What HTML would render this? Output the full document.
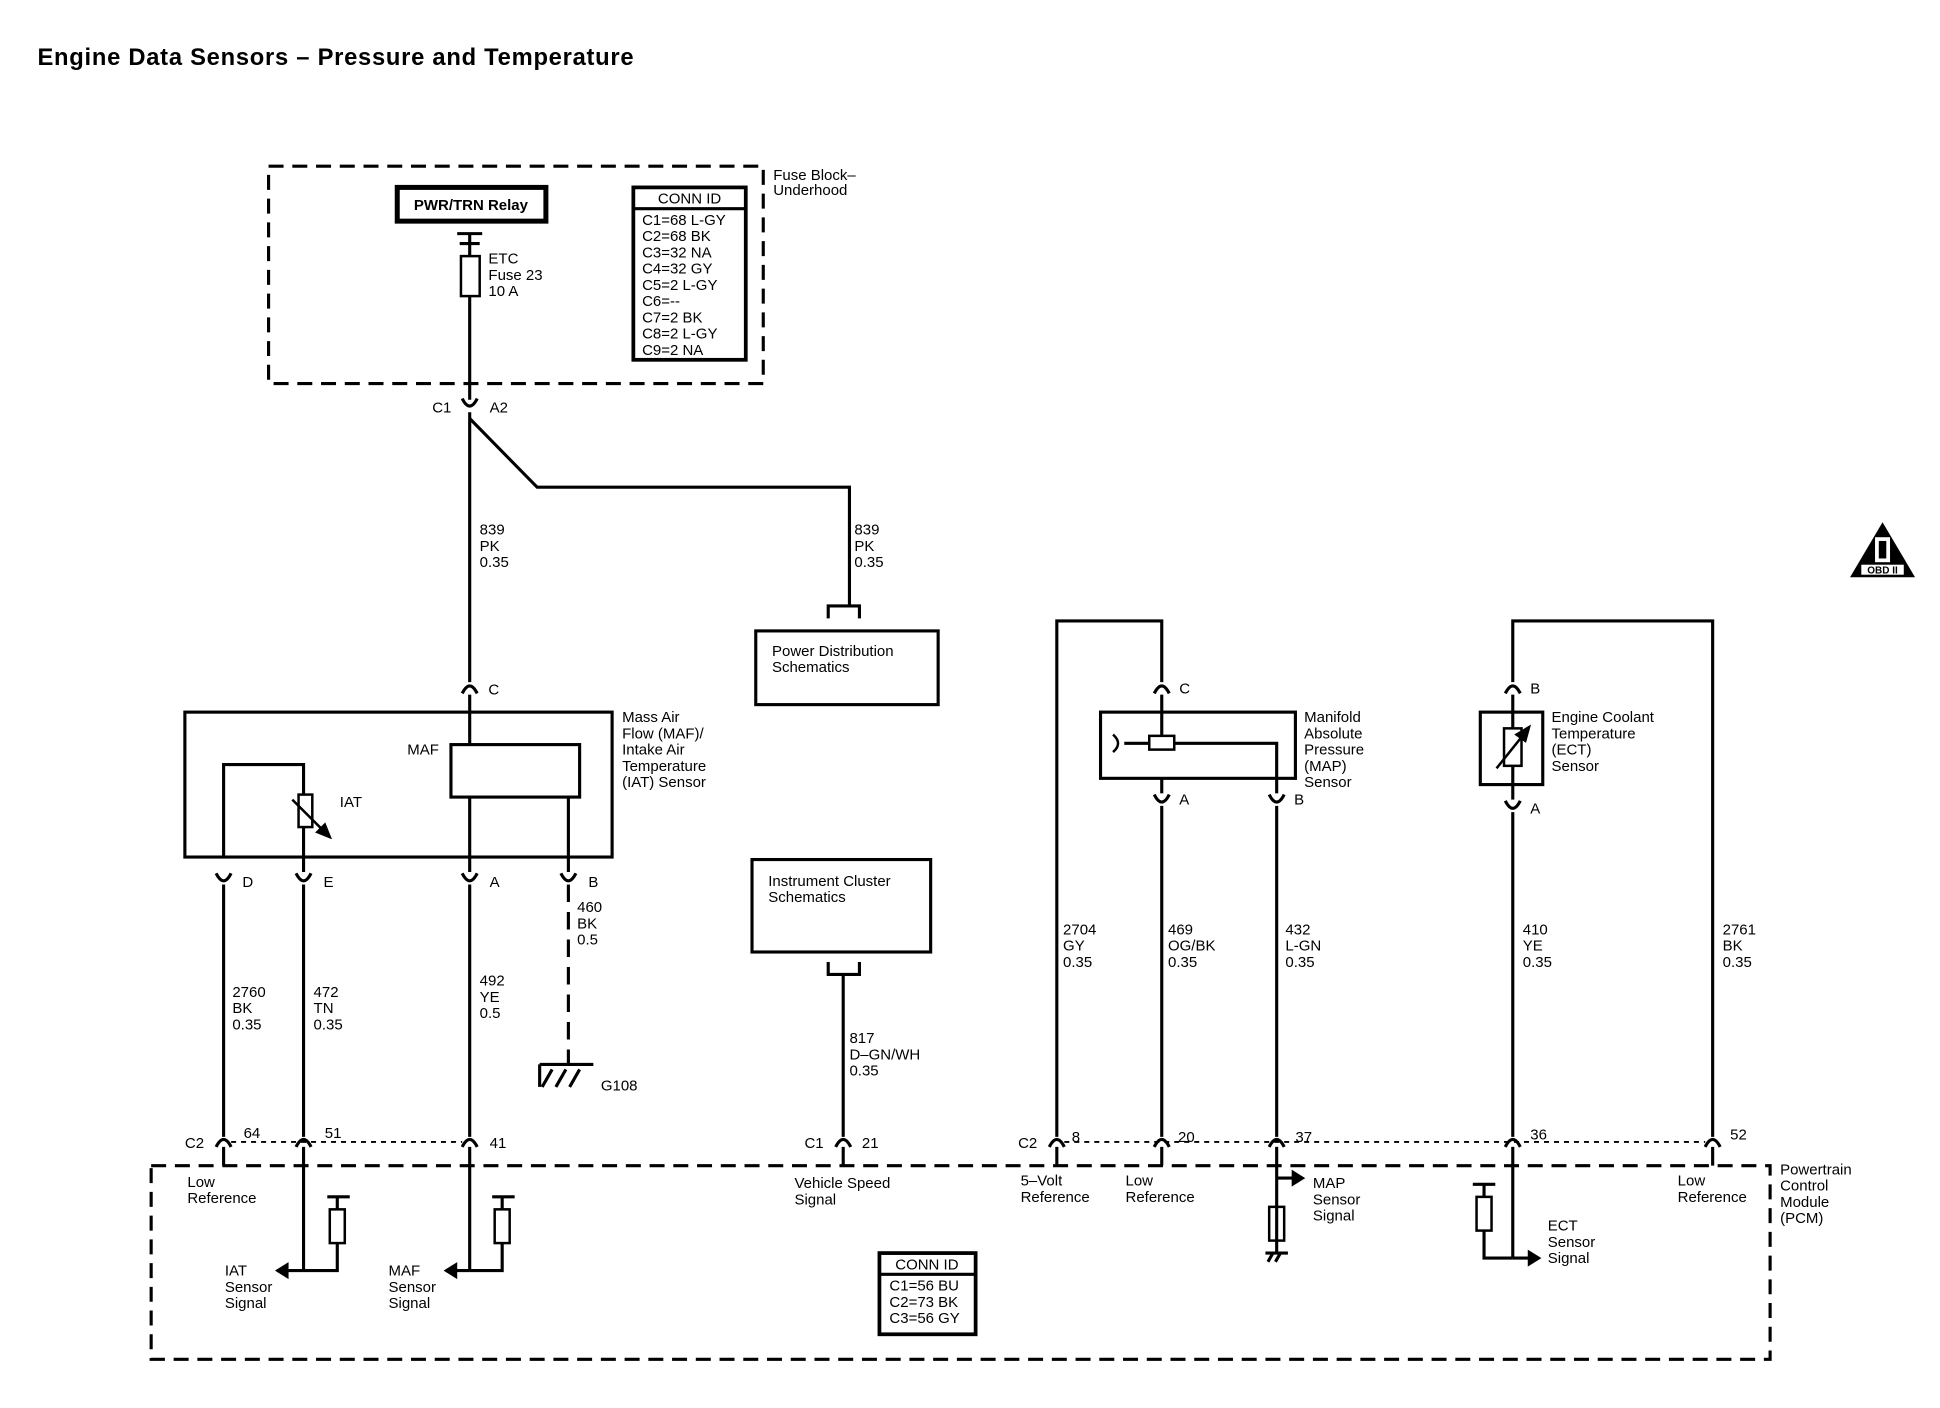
<!DOCTYPE html>
<html><head><meta charset="utf-8"><style>
html,body{margin:0;padding:0;background:#fff;}
svg{display:block;}
text{font-family:"Liberation Sans",Arial,sans-serif;font-size:12px;fill:#000;}
.b{font-weight:bold;}
</style></head><body>
<svg width="1940" height="1408" viewBox="0 0 1553 1127" preserveAspectRatio="none" xmlns="http://www.w3.org/2000/svg">
<defs>
<g id="cu"><path d="M-6,-4 Q0,8 6,-4" fill="none" stroke="#000" stroke-width="2.5"/></g>
<g id="cn"><path d="M-6,4 Q0,-8 6,4" fill="none" stroke="#000" stroke-width="2.5"/></g>
</defs>
<text x="30" y="52" class="b" style="font-size:19px;letter-spacing:0.6px">Engine Data Sensors – Pressure and Temperature</text>

<g fill="none" stroke="#000" stroke-width="2.5">
<rect x="215" y="133" width="396" height="174" stroke-dasharray="12,7"/>
<rect x="318" y="150" width="119" height="27" stroke-width="4"/>
<rect x="507" y="150" width="90" height="138" stroke-width="3"/>
<line x1="507" y1="167" x2="597" y2="167"/>
<path d="M366,187 H386 M376,187 V195 M368,195 H384"/>
<rect x="369" y="205" width="15" height="32" stroke-width="2"/>
<line x1="376" y1="195" x2="376" y2="205"/>
<line x1="376" y1="237" x2="376" y2="320"/>
<line x1="376" y1="330" x2="376" y2="546"/>
<path d="M376,335 L430,390 H680 V485"/>
<path d="M663,495 V485 H688 V495"/>
<rect x="605" y="505" width="146" height="59"/>
<rect x="148" y="570" width="342" height="116"/>
<rect x="361" y="596" width="103" height="42"/>
<line x1="376" y1="556" x2="376" y2="596"/>
<line x1="376" y1="638" x2="376" y2="698"/>
<line x1="455" y1="638" x2="455" y2="698"/>
<path d="M179,686 V612 H243 V636"/>
<rect x="239" y="636" width="11" height="26" stroke-width="2"/>
<line x1="243" y1="662" x2="243" y2="698"/>
<line x1="179" y1="708" x2="179" y2="910"/>
<line x1="243" y1="708" x2="243" y2="910"/>
<line x1="376" y1="708" x2="376" y2="910"/>
<line x1="455" y1="708" x2="455" y2="840" stroke-dasharray="14,8"/>
<path d="M455,840 V852 M432,852 H475 M434,870 L442,856 M445,870 L453,856 M456,870 L464,856 M432,852 V870" />
<rect x="602" y="688" width="143" height="74"/>
<path d="M663,770 V780 H688 V770"/>
<line x1="675" y1="780" x2="675" y2="910"/>
<rect x="121" y="933" width="1296" height="155" stroke-dasharray="12,7"/>
<line x1="185" y1="914" x2="370" y2="914" stroke-width="1.5" stroke-dasharray="4,4"/>
<line x1="852" y1="914" x2="1365" y2="914" stroke-width="1.5" stroke-dasharray="4,4"/>
<line x1="179" y1="918" x2="179" y2="933"/>
<line x1="243" y1="918" x2="243" y2="1017"/>
<line x1="243" y1="1017" x2="222" y2="1017"/>
<path d="M262,958 H280 M270,958 V968 M270,995 V1017 H243"/>
<rect x="264" y="968" width="12" height="27" stroke-width="2"/>
<line x1="376" y1="918" x2="376" y2="1017"/>
<line x1="376" y1="1017" x2="357" y2="1017"/>
<path d="M394,958 H412 M402,958 V968 M402,995 V1017 H376"/>
<rect x="396" y="968" width="12" height="27" stroke-width="2"/>
<line x1="675" y1="918" x2="675" y2="933"/>
<path d="M846,910 V497 H930 V546"/>
<rect x="881" y="570" width="156" height="53"/>
<line x1="930" y1="556" x2="930" y2="589"/>
<rect x="920" y="589" width="20" height="11" stroke-width="2"/>
<path d="M900,595 H920 M940,595 H1022 V623"/>
<path d="M891,588 Q899,595 891,602" stroke-width="2"/>
<line x1="930" y1="623" x2="930" y2="635"/>
<line x1="1022" y1="623" x2="1022" y2="635"/>
<line x1="930" y1="645" x2="930" y2="910"/>
<line x1="1022" y1="645" x2="1022" y2="910"/>
<line x1="846" y1="918" x2="846" y2="933"/>
<line x1="930" y1="918" x2="930" y2="933"/>
<line x1="1022" y1="918" x2="1022" y2="1003"/>
<line x1="1022" y1="943" x2="1043" y2="943"/>
<rect x="1016" y="966" width="12" height="27" stroke-width="2"/>
<path d="M1013,1003 H1031 M1015,1010 L1019,1003 M1021,1010 L1025,1003"/>
<path d="M1371,910 V497 H1211 V546"/>
<rect x="1185" y="570" width="50" height="58"/>
<line x1="1211" y1="556" x2="1211" y2="583"/>
<rect x="1204" y="583" width="14" height="30" stroke-width="2"/>
<line x1="1211" y1="613" x2="1211" y2="640"/>
<line x1="1211" y1="650" x2="1211" y2="910"/>
<line x1="1211" y1="918" x2="1211" y2="1007"/>
<line x1="1211" y1="1007" x2="1232" y2="1007"/>
<path d="M1179,948 H1197 M1188,948 V958 M1188,985 V1007 H1211"/>
<rect x="1182" y="958" width="12" height="27" stroke-width="2"/>
<line x1="1371" y1="918" x2="1371" y2="933"/>
<rect x="704" y="1003" width="77" height="65" stroke-width="3"/>
<line x1="704" y1="1020" x2="781" y2="1020"/>
</g>
<g stroke="#000" stroke-width="2" fill="#000">
<line x1="234" y1="640" x2="262" y2="668"/>
<path d="M264,670 L254,666 L260,660Z"/>
<line x1="1198" y1="615" x2="1222" y2="585"/>
<path d="M1224,582 L1221,593 L1214,588Z"/>
<path d="M222,1017 l8,-5 v10z"/>
<path d="M357,1017 l8,-5 v10z"/>
<path d="M1043,943 l-8,-5 v10z"/>
<path d="M1232,1007 l-8,-5 v10z"/>
</g>
<use href="#cu" x="376" y="323"/>
<use href="#cn" x="376" y="551"/>
<use href="#cu" x="179" y="703"/><use href="#cu" x="243" y="703"/><use href="#cu" x="376" y="703"/><use href="#cu" x="455" y="703"/>
<use href="#cn" x="179" y="914"/><use href="#cn" x="243" y="914"/><use href="#cn" x="376" y="914"/><use href="#cn" x="675" y="914"/>
<use href="#cn" x="846" y="914"/><use href="#cn" x="930" y="914"/><use href="#cn" x="1022" y="914"/><use href="#cn" x="1211" y="914"/><use href="#cn" x="1371" y="914"/>
<use href="#cn" x="930" y="551"/><use href="#cu" x="930" y="640"/><use href="#cu" x="1022" y="640"/>
<use href="#cn" x="1211" y="551"/><use href="#cu" x="1211" y="645"/>

<text x="619" y="144">Fuse Block–</text><text x="619" y="156">Underhood</text>
<text x="377" y="168" text-anchor="middle" class="b">PWR/TRN Relay</text>
<text x="552" y="163" text-anchor="middle">CONN ID</text>
<text x="514" y="180">C1=68 L-GY</text><text x="514" y="193">C2=68 BK</text><text x="514" y="206">C3=32 NA</text><text x="514" y="219">C4=32 GY</text><text x="514" y="232">C5=2 L-GY</text><text x="514" y="245">C6=--</text><text x="514" y="258">C7=2 BK</text><text x="514" y="271">C8=2 L-GY</text><text x="514" y="284">C9=2 NA</text>
<text x="391" y="211">ETC</text><text x="391" y="224">Fuse 23</text><text x="391" y="237">10 A</text>
<text x="346" y="330">C1</text><text x="392" y="330">A2</text>
<text x="384" y="428">839</text><text x="384" y="441">PK</text><text x="384" y="454">0.35</text>
<text x="684" y="428">839</text><text x="684" y="441">PK</text><text x="684" y="454">0.35</text>
<text x="618" y="525">Power Distribution</text><text x="618" y="538">Schematics</text>
<text x="391" y="556">C</text>
<text x="326" y="604">MAF</text><text x="272" y="646">IAT</text>
<text x="498" y="578">Mass Air</text><text x="498" y="591">Flow (MAF)/</text><text x="498" y="604">Intake Air</text><text x="498" y="617">Temperature</text><text x="498" y="630">(IAT) Sensor</text>
<text x="194" y="710">D</text><text x="259" y="710">E</text><text x="392" y="710">A</text><text x="471" y="710">B</text>
<text x="462" y="730">460</text><text x="462" y="743">BK</text><text x="462" y="756">0.5</text>
<text x="186" y="798">2760</text><text x="186" y="811">BK</text><text x="186" y="824">0.35</text>
<text x="251" y="798">472</text><text x="251" y="811">TN</text><text x="251" y="824">0.35</text>
<text x="384" y="789">492</text><text x="384" y="802">YE</text><text x="384" y="815">0.5</text>
<text x="481" y="873">G108</text>
<text x="615" y="709">Instrument Cluster</text><text x="615" y="722">Schematics</text>
<text x="680" y="835">817</text><text x="680" y="848">D–GN/WH</text><text x="680" y="861">0.35</text>
<text x="148" y="919">C2</text><text x="195" y="911">64</text><text x="260" y="911">51</text><text x="392" y="919">41</text>
<text x="644" y="919">C1</text><text x="690" y="919">21</text>
<text x="815" y="919">C2</text><text x="858" y="914">8</text><text x="943" y="914">20</text><text x="1037" y="914">37</text><text x="1225" y="912">36</text><text x="1385" y="912">52</text>
<text x="150" y="950">Low</text><text x="150" y="963">Reference</text>
<text x="636" y="951">Vehicle Speed</text><text x="636" y="964">Signal</text>
<text x="817" y="949">5–Volt</text><text x="817" y="962">Reference</text>
<text x="901" y="949">Low</text><text x="901" y="962">Reference</text>
<text x="1343" y="949">Low</text><text x="1343" y="962">Reference</text>
<text x="1425" y="940">Powertrain</text><text x="1425" y="953">Control</text><text x="1425" y="966">Module</text><text x="1425" y="979">(PCM)</text>
<text x="180" y="1021">IAT</text><text x="180" y="1034">Sensor</text><text x="180" y="1047">Signal</text>
<text x="311" y="1021">MAF</text><text x="311" y="1034">Sensor</text><text x="311" y="1047">Signal</text>
<text x="1051" y="951">MAP</text><text x="1051" y="964">Sensor</text><text x="1051" y="977">Signal</text>
<text x="1239" y="985">ECT</text><text x="1239" y="998">Sensor</text><text x="1239" y="1011">Signal</text>
<text x="742" y="1016" text-anchor="middle">CONN ID</text>
<text x="712" y="1033">C1=56 BU</text><text x="712" y="1046">C2=73 BK</text><text x="712" y="1059">C3=56 GY</text>
<text x="944" y="555">C</text><text x="944" y="644">A</text><text x="1036" y="644">B</text>
<text x="1044" y="578">Manifold</text><text x="1044" y="591">Absolute</text><text x="1044" y="604">Pressure</text><text x="1044" y="617">(MAP)</text><text x="1044" y="630">Sensor</text>
<text x="851" y="748">2704</text><text x="851" y="761">GY</text><text x="851" y="774">0.35</text>
<text x="935" y="748">469</text><text x="935" y="761">OG/BK</text><text x="935" y="774">0.35</text>
<text x="1029" y="748">432</text><text x="1029" y="761">L-GN</text><text x="1029" y="774">0.35</text>
<text x="1225" y="555">B</text><text x="1225" y="651">A</text>
<text x="1242" y="578">Engine Coolant</text><text x="1242" y="591">Temperature</text><text x="1242" y="604">(ECT)</text><text x="1242" y="617">Sensor</text>
<text x="1219" y="748">410</text><text x="1219" y="761">YE</text><text x="1219" y="774">0.35</text>
<text x="1379" y="748">2761</text><text x="1379" y="761">BK</text><text x="1379" y="774">0.35</text>
<path d="M1507,418 L1533,462 H1481Z" fill="#000"/>
<rect x="1501" y="430" width="12" height="20" fill="#fff"/>
<rect x="1504" y="433" width="6" height="14" fill="#000"/>
<rect x="1490" y="452" width="34" height="8" fill="#fff"/>
<text x="1507" y="459" text-anchor="middle" style="font-size:8px" class="b">OBD II</text>
</svg>
</body></html>
